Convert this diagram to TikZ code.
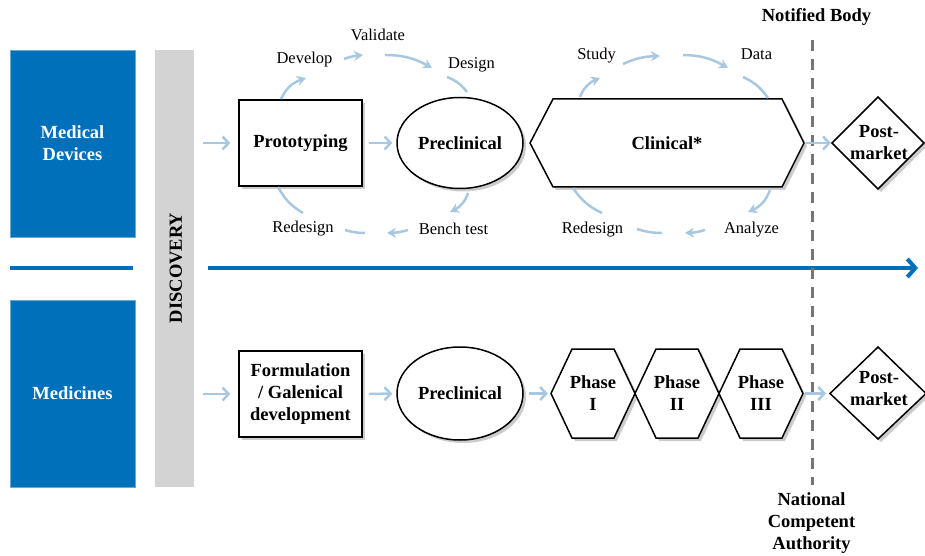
\documentclass[tikz,border=0pt]{standalone}
\usepackage{fontspec}
\setmainfont{Liberation Serif}
\usetikzlibrary{arrows.meta,shapes.geometric,shadows,bending}
\definecolor{mblue}{RGB}{0,112,186}
\definecolor{lblue}{RGB}{168,200,226}
\definecolor{bargray}{RGB}{211,211,211}
\definecolor{dashgray}{RGB}{118,118,118}
\begin{document}
\begin{tikzpicture}[x=1pt,y=1pt,
  bluebox/.style={fill=mblue, draw=mblue!60, minimum width=125, minimum height=187, text=white, font=\bfseries\fontsize{18.5}{22}\selectfont, align=center, inner sep=0},
  lbl/.style={font=\fontsize{16.5}{20}\selectfont, inner sep=0},
  bold/.style={font=\bfseries\fontsize{18.5}{22}\selectfont, align=center, inner sep=0},
  shp/.style={draw=black, line width=1.5pt, fill=white, drop shadow={opacity=0.4, shadow xshift=3pt, shadow yshift=-3pt}},
  flow/.style={draw=lblue, line width=2.5pt, -{Straight Barb[length=6pt,width=13pt]}},
  cyc/.style={draw=lblue, line width=2.5pt},
  cyca/.style={cyc, -{Stealth[length=9pt,width=10pt]}},
]
\useasboundingbox (0,0) rectangle (925,555);

% left column
\node[bluebox] (md) at (72.5,411.5) {Medical\\Devices};
\node[bluebox] (med) at (72.5,161.5) {Medicines};
\node[fill=bargray, minimum width=39, minimum height=437, inner sep=0] (disc) at (174.5,286.5) {};
\node[bold, rotate=90] (disctext) at (176,287) {DISCOVERY};

% separator line and main arrow
\coordinate (l1) at (10,287);
\coordinate (l2) at (133,287);
\coordinate (m1) at (208,287);
\coordinate (m2) at (918,287);
\draw[mblue, line width=4pt] (l1) -- (l2);
\draw[mblue, line width=4pt, -{Straight Barb[length=8pt,width=18pt]}] (m1) -- (m2);

% dashed regulator line
\node[bold] (nb) at (816.5,538) {Notified Body};
\node[bold] (nca) at (811.5,32) {National\\Competent\\Authority};
\coordinate (dtop) at (812,515);
\coordinate (dbot) at (812,70);
\draw[dashgray, line width=3pt, dash pattern=on 11pt off 8pt] (dtop) -- (dbot);

% ===== top row: medical devices =====
\node[shp, bold, minimum width=123, minimum height=86] (proto) at (300.5,412) {Prototyping};
\node[shp, bold, ellipse, minimum width=126, minimum height=91] (pre1) at (460,412) {Preclinical};
\path[shp] (530,412) -- (553,456) -- (782,456) -- (804,412) -- (782,368) -- (553,368) -- cycle;
\node[bold, minimum width=274, minimum height=88] (clin) at (667,412) {Clinical*};
\path[shp] (832,412) -- (878,458) -- (924,412) -- (878,366) -- cycle;
\node[bold, minimum width=92, minimum height=92] (pm1) at (879,412) {Post-\\market};

\draw[flow, shorten <=9pt, shorten >=8pt] (disc.east |- proto) -- (proto);
\draw[flow, shorten <=6pt, shorten >=4pt] (proto) -- (pre1);
\draw[flow, shorten <=2pt, shorten >=2pt] (clin.east) -- (pm1.west);

% cycle labels
\node[lbl] (dev) at (304.5,495) {Develop};
\node[lbl] (val) at (378,520) {Validate};
\node[lbl] (des) at (471.5,490) {Design};
\node[lbl] (bench) at (453.5,326) {Bench test};
\node[lbl] (red1) at (303,326) {Redesign};
\node[lbl] (study) at (596.5,499) {Study};
\node[lbl] (data) at (756.5,501) {Data};
\node[lbl] (anal) at (751.5,325) {Analyze};
\node[lbl] (red2) at (592.5,325) {Redesign};

% prototyping cycle
\coordinate (p1a) at (281,456); \coordinate (p1b) at (306,477);
\coordinate (p2a) at (344,496); \coordinate (p2b) at (363,500);
\coordinate (p3a) at (385,500); \coordinate (p3b) at (432,487);
\coordinate (p4a) at (447,478); \coordinate (p4b) at (467,463);
\coordinate (p5a) at (468,362); \coordinate (p5b) at (450,343);
\coordinate (p6a) at (408,325); \coordinate (p6b) at (387,322);
\coordinate (p7a) at (365,322); \coordinate (p7b) at (345,325);
\coordinate (p8a) at (303,342); \coordinate (p8b) at (278,368);
\draw[cyca] (p1a) to[bend left=25] (p1b);
\draw[cyca] (p2a) to[bend left=8] (p2b);
\draw[cyca] (p3a) to[bend left=15] (p3b);
\draw[cyc] (p4a) to[bend left=15] (p4b);
\draw[cyca] (p5a) to[bend left=25] (p5b);
\draw[cyca] (p6a) to[bend left=8] (p6b);
\draw[cyc] (p7a) to[bend left=8] (p7b);
\draw[cyc] (p8a) to[bend left=15] (p8b);

% clinical cycle
\coordinate (c1a) at (580,458); \coordinate (c1b) at (600,477);
\coordinate (c2a) at (623,491); \coordinate (c2b) at (660,499);
\coordinate (c3a) at (683,500); \coordinate (c3b) at (728,487);
\coordinate (c4a) at (743,478); \coordinate (c4b) at (768,457);
\coordinate (c5a) at (770,365); \coordinate (c5b) at (748,343);
\coordinate (c6a) at (705,325); \coordinate (c6b) at (685,322);
\coordinate (c7a) at (662,322); \coordinate (c7b) at (637,326);
\coordinate (c8a) at (602,342); \coordinate (c8b) at (573,367);
\draw[cyca] (c1a) to[bend left=25] (c1b);
\draw[cyca] (c2a) to[bend left=12] (c2b);
\draw[cyca] (c3a) to[bend left=15] (c3b);
\draw[cyc] (c4a) to[bend left=15] (c4b);
\draw[cyca] (c5a) to[bend left=25] (c5b);
\draw[cyca] (c6a) to[bend left=8] (c6b);
\draw[cyc] (c7a) to[bend left=8] (c7b);
\draw[cyc] (c8a) to[bend left=15] (c8b);

% ===== bottom row: medicines =====
\node[shp, bold, minimum width=123, minimum height=86] (form) at (300.5,161) {Formulation\\/ Galenical\\development};
\node[shp, bold, ellipse, minimum width=126, minimum height=93] (pre2) at (460,161.5) {Preclinical};
\path[shp] (551,161.5) -- (572,206) -- (614,206) -- (635,161.5) -- (614,117) -- (572,117) -- cycle;
\path[shp] (635,161.5) -- (656,206) -- (698,206) -- (719,161.5) -- (698,117) -- (656,117) -- cycle;
\path[shp] (719,161.5) -- (740,206) -- (782,206) -- (803,161.5) -- (782,117) -- (740,117) -- cycle;
\node[bold, minimum width=84, minimum height=89] (ph1) at (593,161.5) {Phase\\I};
\node[bold, minimum width=84, minimum height=89] (ph2) at (677,161.5) {Phase\\II};
\node[bold, minimum width=84, minimum height=89] (ph3) at (761,161.5) {Phase\\III};
\path[shp] (830,161.5) -- (878,208) -- (926,161.5) -- (878,116) -- cycle;
\node[bold, minimum width=96, minimum height=92] (pm2) at (879,166) {Post-\\market};

\draw[flow, shorten <=9pt, shorten >=8pt] (disc.east |- form) -- (form);
\draw[flow, shorten <=6pt, shorten >=4pt] (form) -- (pre2);
\draw[flow, shorten <=5pt, shorten >=3pt] (pre2.east) -- (ph1.west);
\draw[flow, shorten <=2pt, shorten >=4pt] (ph3.east) -- (830,161.5);
\end{tikzpicture}
\end{document}
